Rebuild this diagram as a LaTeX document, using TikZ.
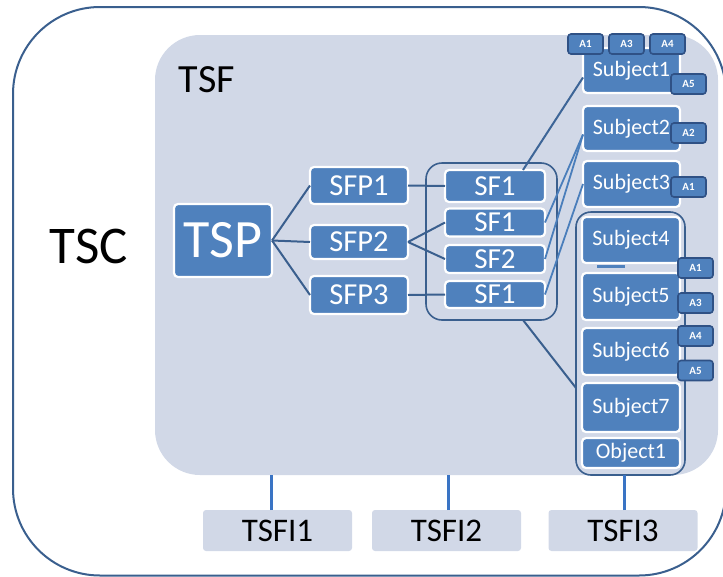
\documentclass[tikz,border=0pt]{standalone}
\usepackage{fontspec}
\setmainfont{Carlito}
\definecolor{boxblue}{HTML}{4F81BD}
\definecolor{darkline}{HTML}{3A5F8E}
\definecolor{tsfbg}{HTML}{D1D8E7}
\definecolor{linkblue}{HTML}{4A7EBB}
\definecolor{attrline}{HTML}{2F5185}
\definecolor{tsfilink}{HTML}{3A74C4}
\begin{document}
\begin{tikzpicture}[x=1pt,y=-1pt,
  box/.style={draw=white, line width=2.2pt, fill=boxblue, rounded corners=4pt, text=white, inner sep=0pt, outer sep=0pt},
  attr/.style={draw=attrline, line width=1.6pt, fill=boxblue, rounded corners=3pt, text=white, inner sep=0pt, outer sep=0pt,
    minimum width=35pt, minimum height=20pt, font=\bfseries\fontsize{11}{11}\selectfont},
  grp/.style={draw=darkline, line width=1.6pt, rounded corners=16pt, inner sep=0pt, outer sep=0pt},
  iface/.style={fill=tsfbg, rounded corners=3pt, inner sep=0pt, outer sep=0pt, minimum width=149pt, minimum height=41pt, font=\fontsize{33}{33}\selectfont},
  conn/.style={draw=darkline, line width=2pt},
  slink/.style={draw=linkblue, line width=1.8pt},
  ilink/.style={draw=tsfilink, line width=3pt},
  fsub/.style={font=\fontsize{22}{22}\selectfont},
  fsfp/.style={font=\fontsize{30.5}{30.5}\selectfont},
  fsf/.style={font=\fontsize{29}{29}\selectfont}]
\useasboundingbox (0,0) rectangle (723,576);
\clip (0,0) rectangle (723,576);
% outer TSC
\draw[draw=darkline, line width=2pt, rounded corners=87pt] (13,7) rectangle (726,575.5);
\node[font=\fontsize{53}{53}\selectfont, anchor=center] (tsc) at (89,246) {TSC};
% TSF area
\node[fill=tsfbg, rounded corners=45pt, inner sep=0pt, outer sep=0pt, minimum width=563pt, minimum height=440pt] (tsf) at (436.5,255) {};
\node[font=\fontsize{40}{40}\selectfont] (tsflabel) at (207,80) {TSF};
% groups
\node[grp, minimum width=131pt, minimum height=157pt] (sfg) at (491.5,241.5) {};
\node[grp, rounded corners=15pt, minimum width=109pt, minimum height=263pt] (sg) at (630.5,343.5) {};
% TSP and SFPs
\node[box, minimum width=98pt, minimum height=73pt, font=\fontsize{54}{54}\selectfont] (tsp) at (223,240.5) {TSP};
\node[box, fsfp, minimum width=98pt, minimum height=37pt] (sfp1) at (359,185.5) {SFP1};
\node[box, fsfp, minimum width=98pt, minimum height=34pt] (sfp2) at (359,242) {SFP2};
\node[box, fsfp, minimum width=98pt, minimum height=38pt] (sfp3) at (359,295) {SFP3};
% SFs
\node[box, fsf, minimum width=100pt, minimum height=32pt] (sf1a) at (495,186) {SF1};
\node[box, fsf, minimum width=100pt, minimum height=28pt] (sf1b) at (495,222.5) {SF1};
\node[box, fsf, minimum width=100pt, minimum height=28pt] (sf2) at (495,259) {SF2};
\node[box, fsf, minimum width=100pt, minimum height=27pt] (sf1c) at (495,294.5) {SF1};
% Subjects
\node[box, fsub, minimum width=97pt, minimum height=45pt] (s1) at (631.5,70.5) {Subject1};
\node[box, fsub, minimum width=97pt, minimum height=45pt] (s2) at (631.5,128.5) {Subject2};
\node[box, fsub, minimum width=97pt, minimum height=46pt] (s3) at (631.5,184) {Subject3};
\node[box, fsub, minimum width=98pt, minimum height=46pt] (s4) at (631,240) {Subject4};
\node[box, fsub, minimum width=98pt, minimum height=47pt] (s5) at (631,296.5) {Subject5};
\node[box, fsub, minimum width=98pt, minimum height=47pt] (s6) at (631,351.5) {Subject6};
\node[box, fsub, minimum width=98pt, minimum height=49pt] (s7) at (631,407.5) {Subject7};
\node[box, fsub, minimum width=98pt, minimum height=30pt] (o1) at (631,453) {Object1};
% small bar under Subject4
\draw[draw=boxblue, line width=3pt] ([xshift=-34pt,yshift=-3.5pt]s4.south) -- ([xshift=-6pt,yshift=-3.5pt]s4.south);
% attributes
\node[attr] (a1t) at (585.5,44) {A1};
\node[attr] (a3t) at (626.5,44) {A3};
\node[attr] (a4t) at (667.5,44) {A4};
\node[attr] (a5s1) at (688.5,84) {A5};
\node[attr] (a2s2) at (688.5,133) {A2};
\node[attr] (a1s3) at (688.5,187) {A1};
\node[attr] (a1g) at (695.5,268) {A1};
\node[attr] (a3g) at (695.5,303) {A3};
\node[attr] (a4g) at (695.5,336) {A4};
\node[attr] (a5g) at (695.5,370.5) {A5};
% connectors TSP -> SFP
\draw[conn] (tsp.east) -- (sfp1.west);
\draw[conn] (tsp.east) -- (sfp2.west);
\draw[conn] (tsp.east) -- (sfp3.west);
% SFP -> SF
\draw[conn] (sfp1.east) -- (sf1a.west);
\draw[conn] (sfp2.east) -- (sf1b.west);
\draw[conn] (sfp2.east) -- (sf2.west);
\draw[conn] (sfp3.east) -- (sf1c.west);
% SF -> Subjects
\draw[conn, draw=darkline!80!linkblue] ([xshift=-22pt]sf1a.north east) -- ([yshift=-7pt]s1.west);
\draw[slink] (sf1b.east) -- ([yshift=-6pt]s2.west);
\draw[slink] (sf2.east) -- ([yshift=-6pt]s2.west);
\draw[slink] (sf1c.east) -- (s3.west);
\draw[conn] ([xshift=-34pt]sfg.south east) -- ([yshift=-44.5pt]sg.west);
% TSFIs
\node[iface] (tsfi1) at (277.5,530.5) {TSFI1};
\node[iface] (tsfi2) at (446.5,530.5) {TSFI2};
\node[iface] (tsfi3) at (623,530.5) {TSFI3};
\coordinate (c1) at ([xshift=-6.5pt]tsfi1.north);
\coordinate (c2) at ([xshift=1.5pt]tsfi2.north);
\coordinate (c3) at ([xshift=1pt]tsfi3.north);
\draw[ilink] (c1) -- (c1 |- tsf.south);
\draw[ilink] (c2) -- (c2 |- tsf.south);
\draw[ilink] (c3) -- (c3 |- sg.south);
\end{tikzpicture}
\end{document}
